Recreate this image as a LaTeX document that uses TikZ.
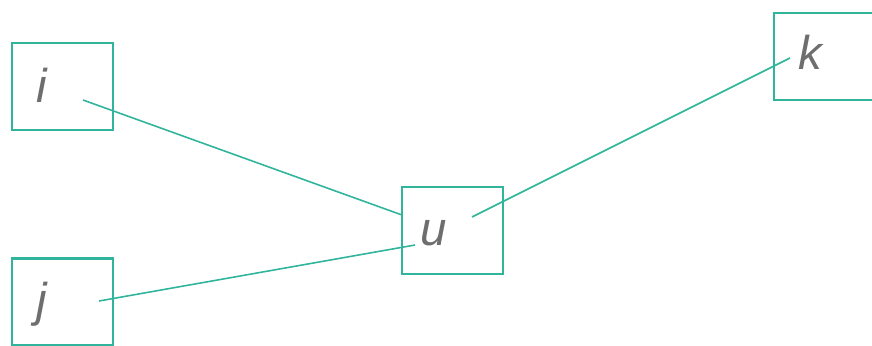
\documentclass[tikz,border=0pt]{standalone}
\usepackage{fontspec}
\setmainfont{Liberation Sans}
\definecolor{boxgreen}{RGB}{48,180,155}
\definecolor{lettergray}{RGB}{110,110,110}
\begin{document}
\begin{tikzpicture}[x=0.02cm,y=-0.02cm,
  box/.style={draw=boxgreen,line width=1.2pt,minimum width=2.02cm,minimum height=1.74cm,inner sep=0pt},
  letter/.style={text=lettergray,font=\fontsize{27}{29}\selectfont\itshape},
  wire/.style={draw=boxgreen,line width=0.9pt}]
\useasboundingbox (0,0) rectangle (872,345);

% the four boxes
\node[box] (i) at (62.5,86.5) {};
\node[box] (j) at (62.5,302) {};
\node[box] (u) at (452.5,230.5) {};
\node[box] (k) at (824.5,56.5) {};

% letters, set a little left of centre
\node[letter] (li) at (42,85) {i};
\node[letter] (lj) at (42,304) {j};
\node[letter] (lu) at (434,233) {u};
\node[letter] (lk) at (810,52) {k};

% wire ends
\coordinate (i-out) at ([shift={(20.5,13.5)}]i.center);
\coordinate (j-out) at ([shift={(36.5,-1)}]j.center);
\coordinate (u-in1) at ([shift={(-50.5,-15.5)}]u.center);
\coordinate (u-in2) at ([shift={(-37.5,14.5)}]u.center);
\coordinate (u-out) at ([shift={(19.5,-13.5)}]u.center);
\coordinate (k-in) at ([shift={(-34.5,1.5)}]k.center);

\draw[wire] (i-out) -- (u-in1); % i to u
\draw[wire] (j-out) -- (u-in2); % j to u
\draw[wire] (u-out) -- (k-in); % u to k
\end{tikzpicture}
\end{document}
